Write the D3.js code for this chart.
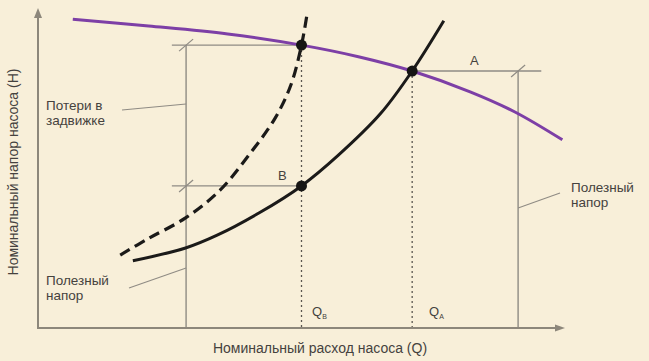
<!DOCTYPE html>
<html>
<head>
<meta charset="utf-8">
<script src="https://cdn.jsdelivr.net/npm/d3@7/dist/d3.min.js"></script>
<style>
  html, body { margin: 0; padding: 0; background: #f8efd9; }
  svg { display: block; }
  text { font-family: "Liberation Sans", Arial, sans-serif; fill: #45423e; }
</style>
</head>
<body>
<div id="chart"></div>
<script>
// pump curve (purple)
var pumpQ = [0.66, 2.1, 3.6, 5.0, 6.1, 7.1, 8.2, 9.05, 9.95];
var pumpH = [9.65, 9.44, 9.19, 8.84, 8.47, 8.03, 7.38, 6.75, 5.88];
// system curve, valve open (solid)
var sysQ = [1.8, 2.8, 3.4, 4.2, 5.0, 5.7, 6.5, 7.1, 7.7];
var sysH = [2.1, 2.5, 2.9, 3.6, 4.44, 5.4, 6.7, 8.03, 9.6];
// system curve, valve throttled (dashed)
var valveQ = [1.56, 2.1, 2.8, 3.45, 4.0, 4.5, 4.8, 5.0, 5.1];
var valveH = [2.28, 2.8, 3.44, 4.3, 5.4, 6.56, 7.6, 8.84, 9.75];

// operating points
var pointNames = ['C', 'A', 'B'];
var pointQ = [5.0, 7.1, 5.0];
var pointH = [8.84, 8.03, 4.44];

// bracket positions (useful head / losses)
var bracketQ = [2.81, 9.11];

var W = 649, H = 361;
var svg = d3.select('#chart').append('svg').attr('width', W).attr('height', H);

var x = d3.scaleLinear().domain([0, 10]).range([38, 565]);
var y = d3.scaleLinear().domain([0, 10]).range([328, 8]);

var axisColor = '#8d877b';
var grey = '#8f8b84';

var zip = function (xs, ys) { return xs.map(function (v, i) { return [v, ys[i]]; }); };
var line = d3.line().x(function (d) { return x(d[0]); }).y(function (d) { return y(d[1]); })
  .curve(d3.curveCatmullRom.alpha(0.5));

var g = svg.append('g');

// bracket lines
function hline(q0, q1, h) {
  g.append('line').attr('x1', x(q0)).attr('x2', x(q1)).attr('y1', y(h)).attr('y2', y(h))
    .style('stroke', grey).style('stroke-width', 1.4);
}
function vline(q, h0, h1) {
  g.append('line').attr('x1', x(q)).attr('x2', x(q)).attr('y1', y(h0)).attr('y2', y(h1))
    .style('stroke', grey).style('stroke-width', 1.4);
}
function slash(q, h) {
  g.append('line').attr('x1', x(q) - 7).attr('x2', x(q) + 7).attr('y1', y(h) + 6).attr('y2', y(h) - 6)
    .style('stroke', grey).style('stroke-width', 1.2);
}

vline(bracketQ[0], 0, pointH[0]);
hline(bracketQ[0] - 0.27, pointQ[0], pointH[0]);
hline(bracketQ[0] - 0.27, pointQ[2], pointH[2]);
slash(bracketQ[0], pointH[0]);
slash(bracketQ[0], pointH[2]);

vline(bracketQ[1], 0, pointH[1]);
hline(pointQ[1], bracketQ[1] + 0.44, pointH[1]);
slash(bracketQ[1], pointH[1]);

// dotted verticals
[pointQ[0], pointQ[1]].forEach(function (q, i) {
  g.append('line').attr('x1', x(q)).attr('x2', x(q))
    .attr('y1', y(i === 0 ? pointH[0] : pointH[1])).attr('y2', y(0))
    .style('stroke', '#5a5650').style('stroke-width', 1.3).style('stroke-dasharray', '2,3');
});

// curves
g.append('path').attr('d', line(zip(pumpQ, pumpH)))
  .style('fill', 'none').style('stroke', '#7d3fa6').style('stroke-width', 3);
g.append('path').attr('d', line(zip(sysQ, sysH)))
  .style('fill', 'none').style('stroke', '#1b1a19').style('stroke-width', 3);
g.append('path').attr('d', line(zip(valveQ, valveH)))
  .style('fill', 'none').style('stroke', '#1b1a19').style('stroke-width', 3.2)
  .style('stroke-dasharray', '11,6');

// points
g.selectAll('circle.pt').data(pointQ).enter().append('circle')
  .attr('class', 'pt')
  .attr('cx', function (d) { return x(d); })
  .attr('cy', function (d, i) { return y(pointH[i]); })
  .attr('r', 5.5).style('fill', '#161514');

// axes with arrows
g.append('line').attr('x1', x(0)).attr('x2', x(0)).attr('y1', y(0) + 1).attr('y2', y(10) + 6)
  .style('stroke', axisColor).style('stroke-width', 2);
g.append('line').attr('x1', x(0) - 1).attr('x2', x(10) - 6).attr('y1', y(0)).attr('y2', y(0))
  .style('stroke', axisColor).style('stroke-width', 2);
g.append('path').attr('d', 'M' + x(0) + ',' + y(10) + 'l-4,10l8,0z').style('fill', axisColor);
g.append('path').attr('d', 'M' + x(10) + ',' + y(0) + 'l-10,-3.5l0,7z').style('fill', axisColor);

// leader lines
function leader(x1, y1, x2, y2) {
  g.append('line').attr('x1', x1).attr('y1', y1).attr('x2', x2).attr('y2', y2)
    .style('stroke', grey).style('stroke-width', 1.1);
}
leader(122, 110, x(bracketQ[0]), 104);
leader(129, 288, x(bracketQ[0]), 268);
leader(x(bracketQ[1]), 208, 560, 193);

// texts
function label(t, px, py, size) {
  return g.append('text').attr('x', px).attr('y', py).style('font-size', (size || 13.5) + 'px').text(t);
}
label('Потери в', 46, 110);
label('задвижке', 46, 125);
label('Полезный', 46, 285);
label('напор', 46, 300);
label('Полезный', 571, 192);
label('напор', 571, 207);
label('A', 470, 65, 13);
label('B', 278, 180, 13);

var qb = label('Q', 312, 316, 13);
qb.append('tspan').attr('dy', 3).style('font-size', '7px').text('B');
var qa = label('Q', 429, 316, 13);
qa.append('tspan').attr('dy', 3).style('font-size', '7px').text('A');

label('Номинальный расход насоса (Q)', 320, 353, 14).attr('text-anchor', 'middle');
g.append('text').attr('transform', 'translate(18,172) rotate(-90)')
  .attr('text-anchor', 'middle').style('font-size', '14px')
  .text('Номинальный напор насоса (H)');
</script>
</body>
</html>
